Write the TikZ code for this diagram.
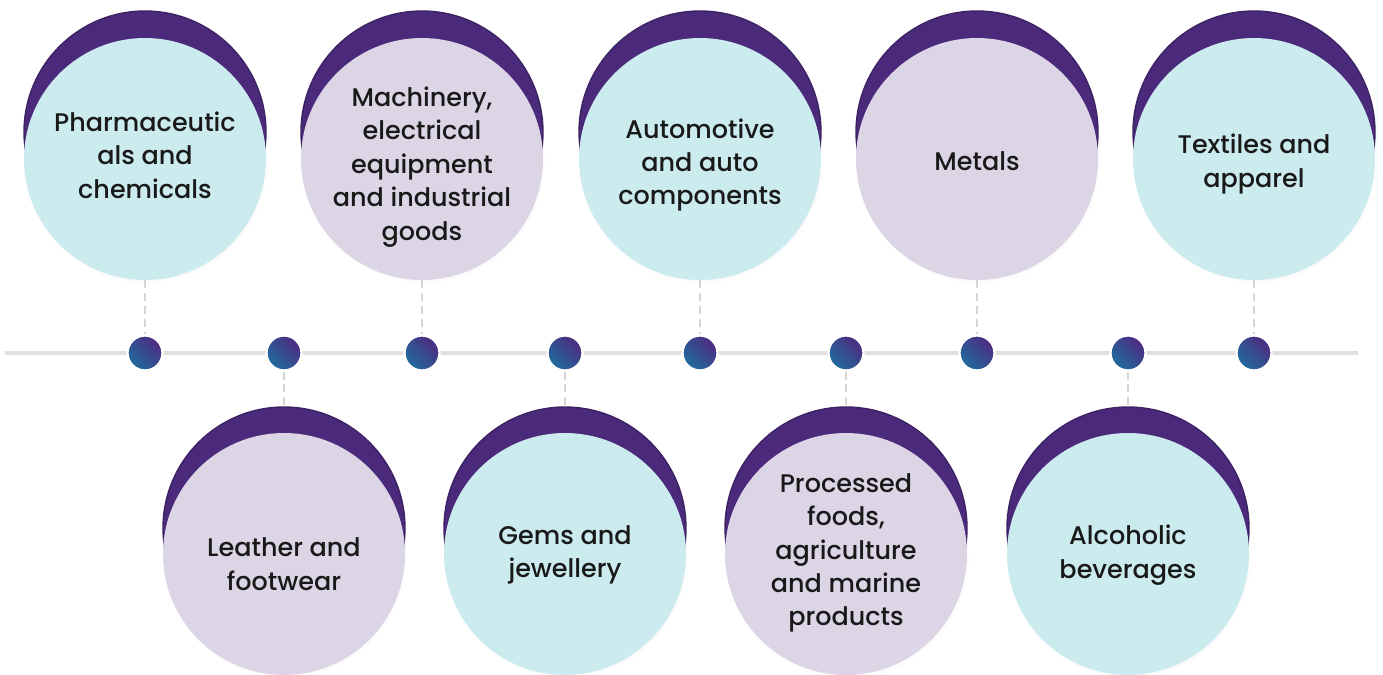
\documentclass[tikz,border=0pt]{standalone}
\usepackage{fontspec}
\setmainfont{Poppins Medium}
\usetikzlibrary{shadows}
\definecolor{discCyan}{HTML}{CBEBEF}
\definecolor{discLilac}{HTML}{DCD5E6}
\definecolor{capPurple}{HTML}{4B2A7C}
\definecolor{dotTeal}{HTML}{1F6C9D}
\definecolor{dotPurple}{HTML}{4F2A80}
\definecolor{railGray}{HTML}{E2DFDB}
\definecolor{linkGray}{HTML}{D8D5D1}
\begin{document}
\begin{tikzpicture}[x=0.02cm,y=-0.02cm,line join=round,line cap=round,
	disc/.style={circle,minimum size=4.84cm,inner sep=0pt,
		circular drop shadow={opacity=0.18,shadow xshift=0.6pt,shadow yshift=-1.2pt,shadow scale=1.01}},
	crest/.style={circle,minimum size=4.84cm,inner sep=0pt,fill=capPurple,
		draw=capPurple!80!black,line width=0.8pt},
	label text/.style={align=center,font=\fontsize{14.5}{19}\selectfont,text=black!90},
	dot/.style={circle,minimum size=0.70cm,inner sep=0pt,draw=white,line width=1.3pt,
		top color=dotPurple,middle color=dotPurple,bottom color=dotTeal,shading angle=-45},
	link/.style={draw=linkGray,line width=1.6pt,line cap=butt,dash pattern=on 4.5pt off 2.8pt}]
	\useasboundingbox (0,0) rectangle (1383,675);
	% time line
	\coordinate (rail-w) at (5,353);
	\coordinate (rail-e) at (1358,353);
	\draw[railGray,line width=2.3pt,line cap=butt] (rail-w) -- (rail-e);
	% sectors above the line
	\foreach \n/\x/\c/\ty/\t in {
		pharma/145/discCyan/155/{Pharmaceutic\\als and\\chemicals},
		machinery/422/discLilac/167/{Machinery,\\electrical\\equipment\\and industrial\\goods},
		auto/700/discCyan/165/{Automotive\\and auto\\components},
		metals/977/discLilac/161/{Metals},
		textiles/1254/discCyan/164/{Textiles and\\apparel}}{
		\node[crest] (\n-crest) at (\x,132) {};
		\node[disc,fill=\c] (\n) at (\x,159) {};
		\node[label text] (\n-text) at (\x,\ty) {\t};
		\node[dot] (\n-dot) at (\x,353) {};
		\draw[link] (\n.south) -- (\n-dot.north);
	}
	% sectors below the line
	\foreach \n/\x/\c/\ty/\t in {
		leather/284/discLilac/564/{Leather and\\footwear},
		gems/565/discCyan/555/{Gems and\\jewellery},
		foods/846/discLilac/553/{Processed\\foods,\\agriculture\\and marine\\products},
		alcohol/1128/discCyan/555/{Alcoholic\\beverages}}{
		\node[crest] (\n-crest) at (\x,528) {};
		\node[disc,fill=\c] (\n) at (\x,554) {};
		\node[label text] (\n-text) at (\x,\ty) {\t};
		\node[dot] (\n-dot) at (\x,353) {};
		\draw[link] (\n-dot.south) -- (\n-crest.north);
	}
\end{tikzpicture}
\end{document}
